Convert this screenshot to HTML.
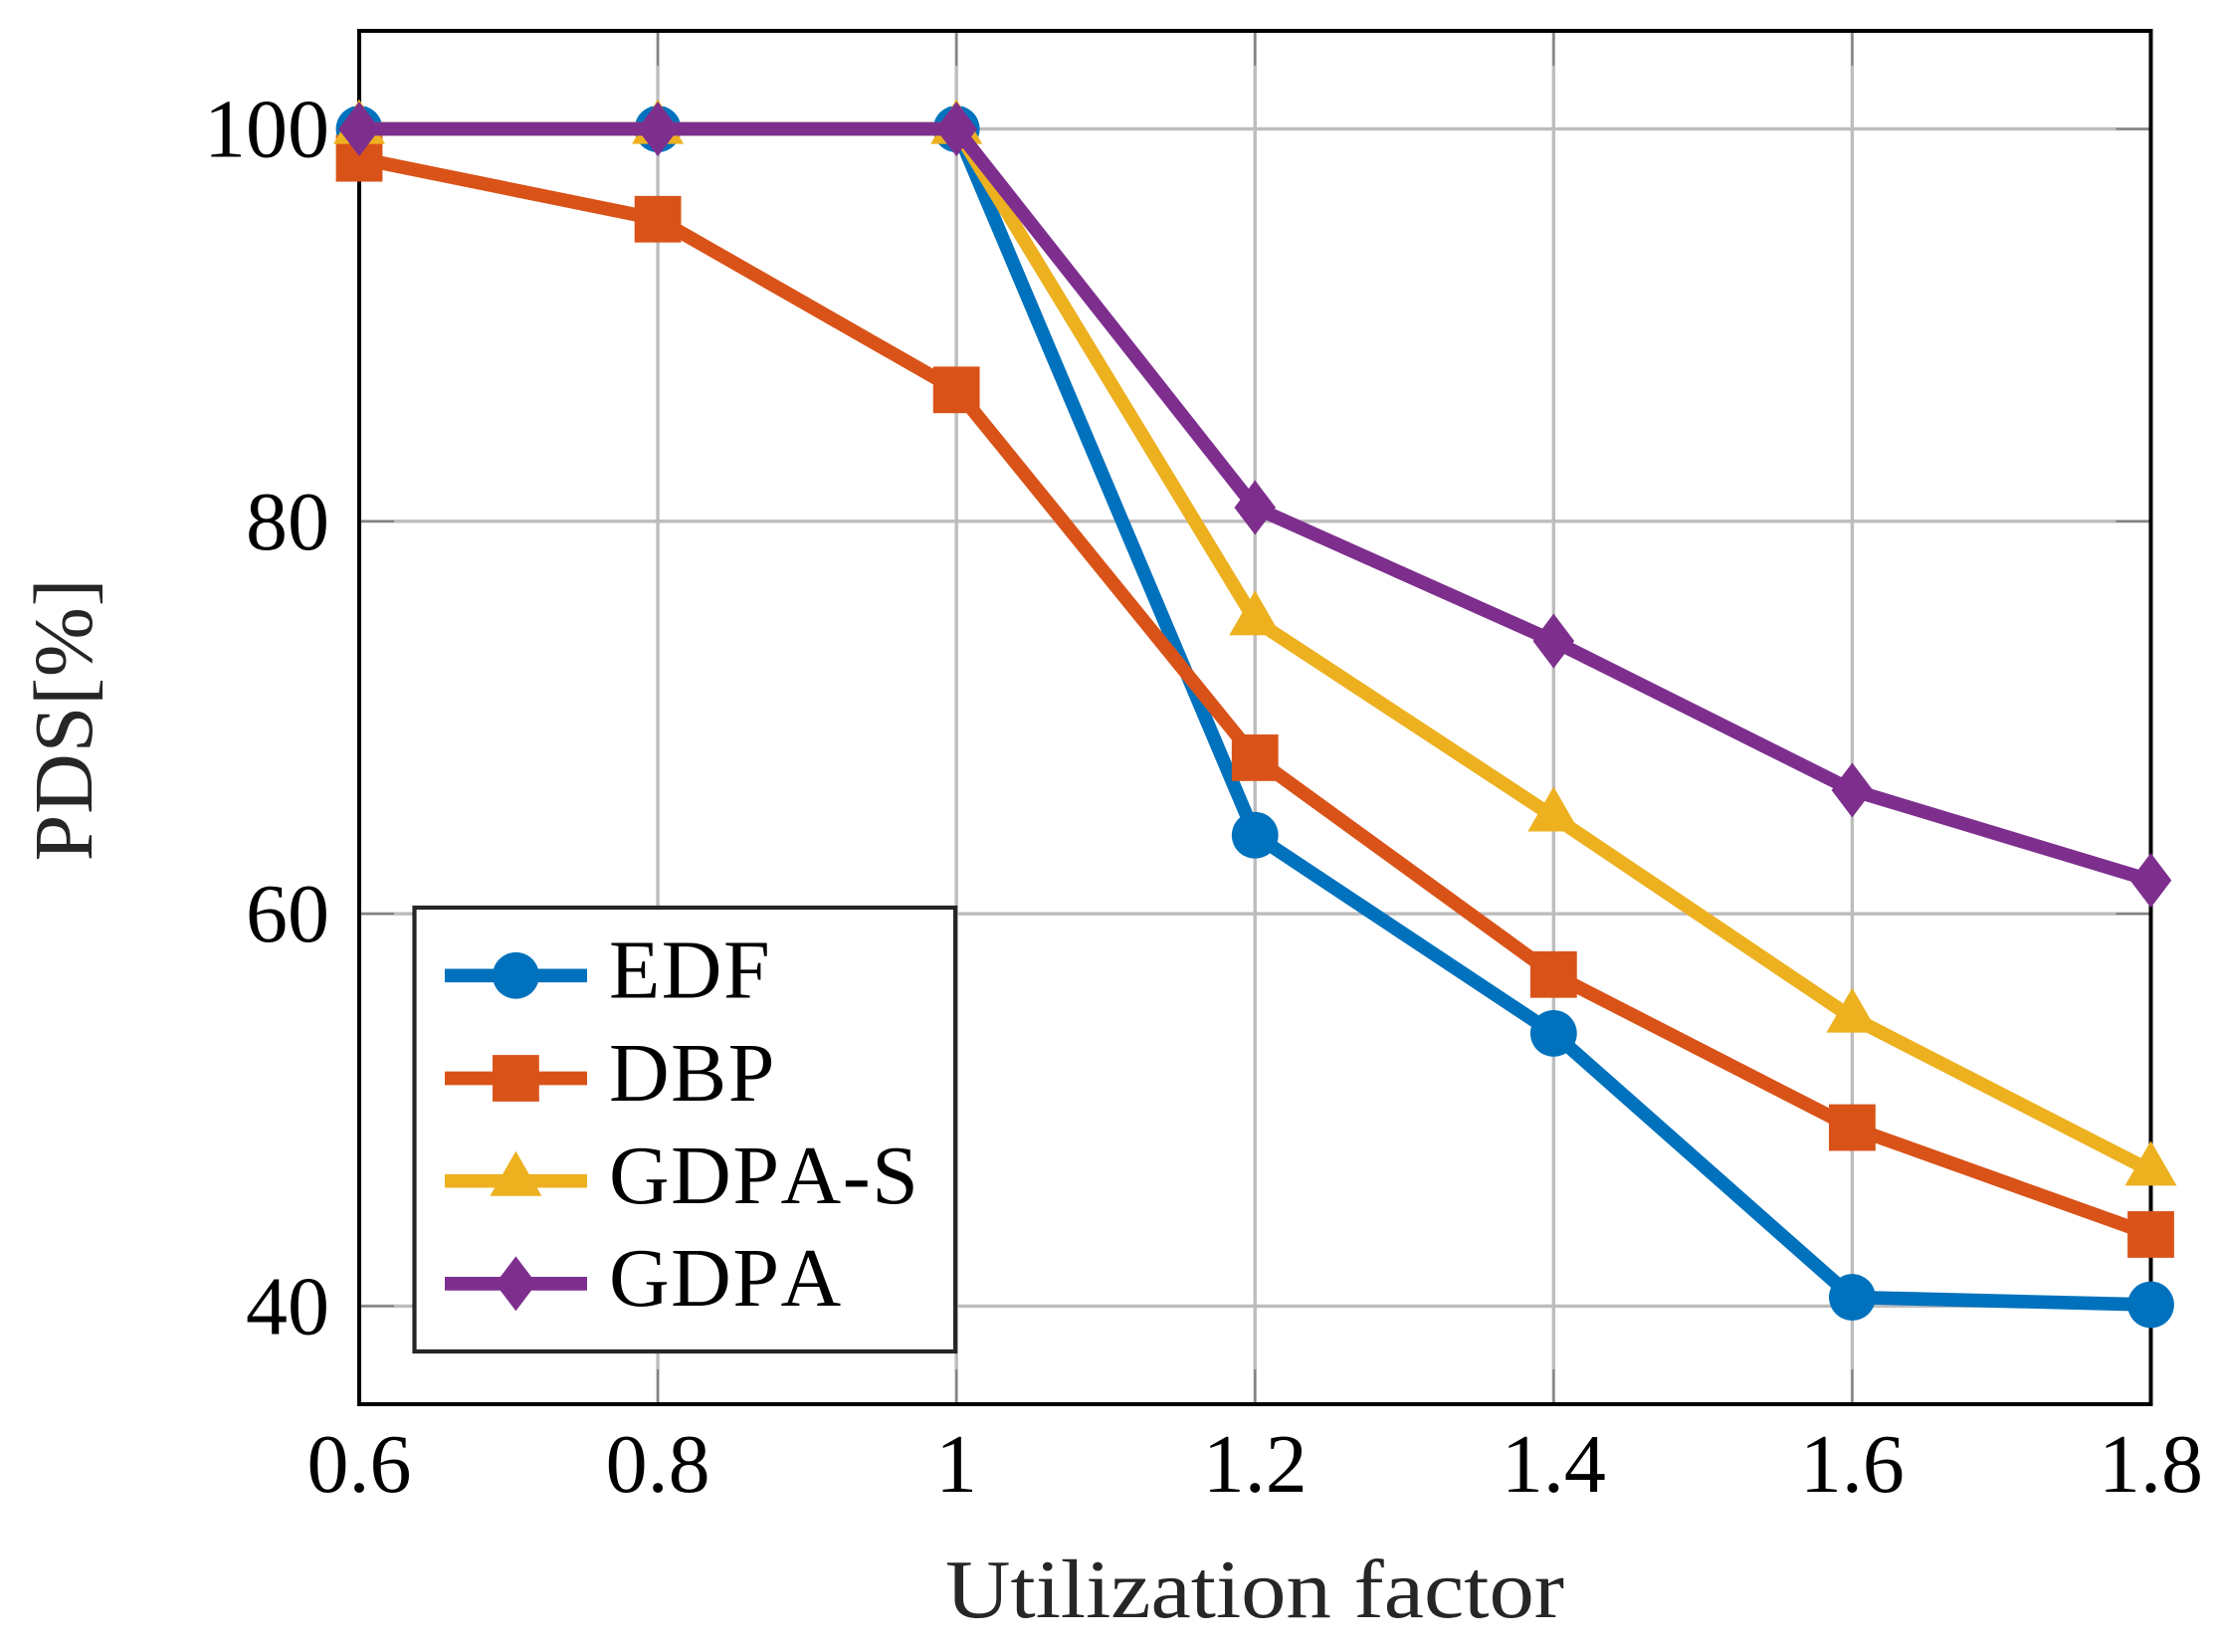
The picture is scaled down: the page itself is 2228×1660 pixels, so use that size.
<!DOCTYPE html>
<html>
<head>
<meta charset="utf-8">
<title>PDS vs Utilization factor</title>
<style>
html,body{margin:0;padding:0;background:#fff;}
svg{display:block;font-family:"Liberation Serif",serif;font-kerning:none;}
</style>
</head>
<body>
<svg id="chart" width="2228" height="1660" viewBox="0 0 2228 1660" xmlns="http://www.w3.org/2000/svg"></svg>
<script>
const categories = [0.6, 0.8, 1.0, 1.2, 1.4, 1.6, 1.8];
const xTickLabels = ['0.6', '0.8', '1', '1.2', '1.4', '1.6', '1.8'];
const yTicks = [40, 60, 80, 100];
const yTickLabels = ['40', '60', '80', '100'];
const seriesNames = ['EDF', 'DBP', 'GDPA-S', 'GDPA'];
const edfValues = [100, 100, 100, 64.0, 53.9, 40.45, 40.07];
const dbpValues = [98.5, 95.4, 86.7, 67.95, 56.9, 49.1, 43.65];
const gdpaSValues = [100, 100, 100, 74.95, 64.95, 54.7, 46.9];
const gdpaValues = [100, 100, 100, 80.7, 73.9, 66.3, 61.7];

const svgNS = 'http://www.w3.org/2000/svg';
const svg = document.getElementById('chart');
const plot = {left: 361, right: 2161.5, top: 31, bottom: 1411};
const xDomain = [0.6, 1.8];
const yDomain = [35, 105];
const lineWidth = 13.7;
const colors = ['#0072BD', '#D95319', '#EDB120', '#7E2F8E'];
const markerKinds = ['circle', 'square', 'triangle', 'diamond'];

function xScale(v) {
  return plot.left + (v - xDomain[0]) / (xDomain[1] - xDomain[0]) * (plot.right - plot.left);
}
function yScale(v) {
  return plot.bottom - (v - yDomain[0]) / (yDomain[1] - yDomain[0]) * (plot.bottom - plot.top);
}
function make(tag, attrs, parent) {
  const el = document.createElementNS(svgNS, tag);
  for (const k in attrs) el.setAttribute(k, attrs[k]);
  (parent || svg).appendChild(el);
  return el;
}
function drawMarker(kind, cx, cy, color, parent) {
  let el;
  if (kind === 'circle') {
    el = make('circle', {cx: cx, cy: cy, r: 23.4, fill: color}, parent);
  } else if (kind === 'square') {
    el = make('rect', {x: cx - 23.4, y: cy - 23.4, width: 46.8, height: 46.8, fill: color}, parent);
  } else if (kind === 'triangle') {
    const p = [[cx, cy - 30], [cx + 26, cy + 15], [cx - 26, cy + 15]];
    el = make('polygon', {points: p.join(' '), fill: color}, parent);
  } else {
    const p = [[cx, cy - 27.5], [cx + 20.8, cy], [cx, cy + 27.5], [cx - 20.8, cy]];
    el = make('polygon', {points: p.join(' '), fill: color}, parent);
  }
  return el;
}

/* grid */
const gridGroup = make('g', {stroke: '#bdbdbd', 'stroke-width': 3.4, fill: 'none'});


categories.forEach(function (c) {
  const gl = make('line', {x1: xScale(c), x2: xScale(c), y1: plot.top, y2: plot.bottom}, gridGroup);
  
  
});
yTicks.forEach(function (t) {
  const gl = make('line', {x1: plot.left, x2: plot.right, y1: yScale(t), y2: yScale(t)}, gridGroup);
  
  
});

/* tick marks */
const tickGroup = make('g', {stroke: '#7f7f7f', 'stroke-width': 2, fill: 'none'});


const tickLen = 35;
categories.forEach(function (c) {
  const x = xScale(c);
  make('line', {x1: x, x2: x, y1: plot.top, y2: plot.top + tickLen}, tickGroup);
  make('line', {x1: x, x2: x, y1: plot.bottom, y2: plot.bottom - tickLen}, tickGroup);
});
yTicks.forEach(function (t) {
  const y = yScale(t);
  make('line', {x1: plot.left, x2: plot.left + tickLen, y1: y, y2: y}, tickGroup);
  make('line', {x1: plot.right, x2: plot.right - tickLen, y1: y, y2: y}, tickGroup);
});

/* frame */
const frame = make('rect', {x: plot.left, y: plot.top, width: plot.right - plot.left, height: plot.bottom - plot.top, fill: 'none', stroke: '#000', 'stroke-width': 4});



/* tick labels */
categories.forEach(function (c, i) {
  const t = make('text', {x: xScale(c), y: 1499, 'text-anchor': 'middle', 'font-size': 84, fill: '#000'});
  t.textContent = xTickLabels[i];
  
  
});
yTicks.forEach(function (v, i) {
  const t = make('text', {x: 331, y: yScale(v) + 28, 'text-anchor': 'end', 'font-size': 84, fill: '#000'});
  t.textContent = yTickLabels[i];
  
  
});

/* axis titles */
const xTitle = make('text', {x: 950, y: 1625, 'font-size': 84, fill: '#262626', textLength: 622, lengthAdjust: 'spacingAndGlyphs'});
xTitle.textContent = 'Utilization factor';


const yTitle = make('text', {transform: 'translate(92 723) rotate(-90)', 'text-anchor': 'middle', 'font-size': 84, 'letter-spacing': 0.8, fill: '#262626'});
yTitle.textContent = 'PDS[%]';



/* series */
[edfValues, dbpValues, gdpaSValues, gdpaValues].forEach(function (values, s) {
  const g = make('g', {});
  
  
  const pts = values.map(function (v, i) { return xScale(categories[i]) + ',' + yScale(v); }).join(' ');
  const line = make('polyline', {points: pts, fill: 'none', stroke: colors[s], 'stroke-width': lineWidth, 'stroke-linejoin': 'miter'}, g);
  
  
  values.forEach(function (v, i) {
    const m = drawMarker(markerKinds[s], xScale(categories[i]), yScale(v), colors[s], g);
    
    
  });
});

/* legend */
const legend = make('g', {});


const legendBox = make('rect', {x: 416.5, y: 912, width: 543.6, height: 446, fill: '#fff', stroke: '#262626', 'stroke-width': 4.2}, legend);


seriesNames.forEach(function (name, i) {
  const cy = 980.3 + i * 103.2;
  const entry = make('g', {}, legend);
  
  
  make('line', {x1: 447, x2: 590, y1: cy, y2: cy, stroke: colors[i], 'stroke-width': lineWidth}, entry);
  drawMarker(markerKinds[i], 518.4, cy, colors[i], entry);
  const label = make('text', {x: 612, y: cy + 22.3, 'font-size': 84, 'letter-spacing': 1.5, fill: '#000'}, entry);
  label.textContent = name;
  
  
});
</script>
</body>
</html>
